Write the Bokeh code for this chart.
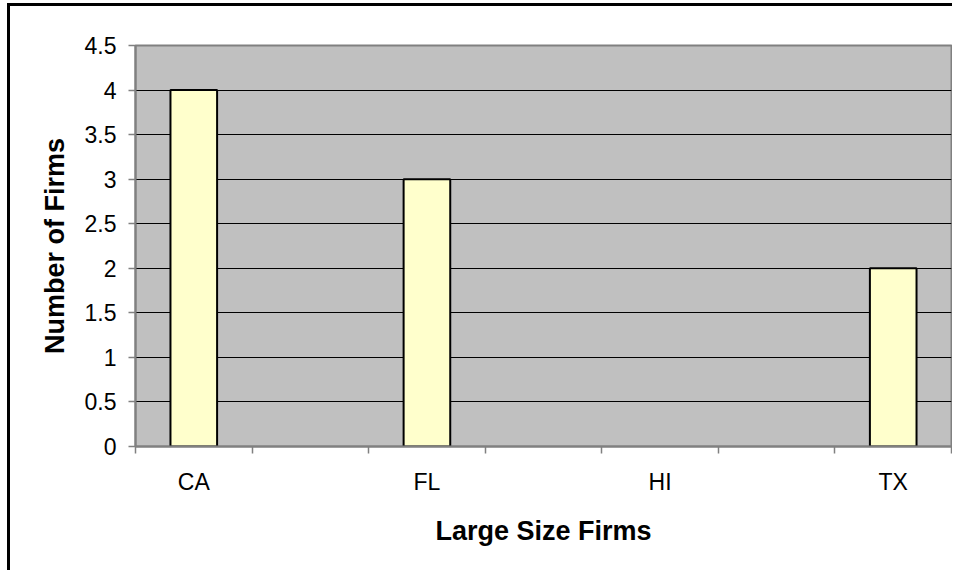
from bokeh.plotting import figure
from bokeh.models import FixedTicker, NumeralTickFormatter, ColumnDataSource
from bokeh.embed import file_html
from bokeh.resources import INLINE

# Data (7 category slots; unlabelled slots between the named states)
categories = ["CA", "", "FL", "", "HI", "", "TX"]
values = [4, 0, 3, 0, 0, 0, 2]
y_ticks = [0, 0.5, 1, 1.5, 2, 2.5, 3, 3.5, 4, 4.5]
x_title = "Large Size Firms"
y_title = "Number of Firms"

idx = list(range(len(categories)))
src = ColumnDataSource(dict(
    x=[i for i, v in zip(idx, values) if v > 0],
    top=[v for v in values if v > 0],
))

p = figure(width=945, height=567,
           x_range=(-0.5, len(categories) - 0.5), y_range=(0, 4.5),
           output_backend="svg", toolbar_location=None,
           min_border_left=125, min_border_right=4,
           min_border_top=39, min_border_bottom=127)
p.styles = {"margin-left": "7px", "margin-top": "3px",
            "border-left": "3px solid black", "border-top": "3px solid black"}

p.background_fill_color = "#C0C0C0"
p.border_fill_color = "white"
p.outline_line_color = "#808080"
p.outline_line_width = 2

p.vbar(x="x", top="top", bottom=0, width=0.4, source=src,
       fill_color="#FFFFCC", line_color="black", line_width=2)

# grid
p.xgrid.grid_line_color = None
p.ygrid.grid_line_color = "black"
p.ygrid.grid_line_width = 1

# y axis
ya = p.yaxis[0]
ya.ticker = FixedTicker(ticks=y_ticks)
ya.formatter = NumeralTickFormatter(format="0.[0]")
ya.axis_line_color = "#808080"
ya.axis_line_width = 2
ya.major_tick_out = 7
ya.major_tick_in = 0
ya.major_tick_line_color = "#808080"
ya.major_tick_line_width = 1.5
ya.minor_tick_line_color = None
ya.major_label_text_font = "Liberation Sans"
ya.major_label_text_font_size = "23px"
ya.major_label_text_color = "black"
ya.major_label_standoff = 12
ya.axis_label = y_title
ya.axis_label_text_font = "Liberation Sans"
ya.axis_label_text_font_style = "bold"
ya.axis_label_text_font_size = "27px"
ya.axis_label_text_color = "black"
ya.axis_label_standoff = 12

# x axis
xa = p.xaxis[0]
xa.ticker = FixedTicker(ticks=idx,
                        minor_ticks=[i - 0.5 for i in idx] + [idx[-1] + 0.5])
xa.major_label_overrides = {i: c for i, c in zip(idx, categories)}
xa.axis_line_color = "#808080"
xa.axis_line_width = 2
xa.major_tick_out = 0
xa.major_tick_in = 0
xa.major_tick_line_color = None
xa.minor_tick_out = 7
xa.minor_tick_in = 0
xa.minor_tick_line_color = "#808080"
xa.minor_tick_line_width = 1.5
xa.major_label_text_font = "Liberation Sans"
xa.major_label_text_font_size = "23px"
xa.major_label_text_color = "black"
xa.major_label_standoff = 15
xa.axis_label = x_title
xa.axis_label_text_font = "Liberation Sans"
xa.axis_label_text_font_style = "bold"
xa.axis_label_text_font_size = "27px"
xa.axis_label_text_color = "black"
xa.axis_label_standoff = 18

open("out.html", "w").write(file_html(p, INLINE))
